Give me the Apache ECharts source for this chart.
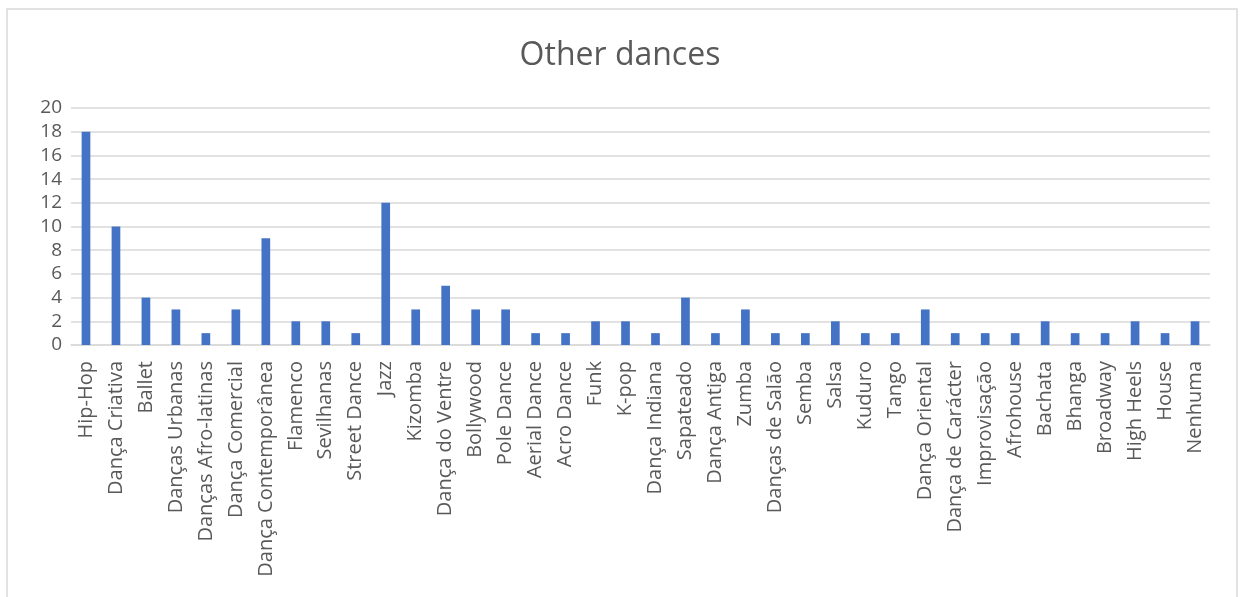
<!DOCTYPE html>
<html>
<head>
<meta charset="utf-8">
<script src="https://cdn.jsdelivr.net/npm/echarts@6/dist/echarts.min.js"></script>
<style>
  html, body { margin: 0; padding: 0; background: #fff; }
  #chart { width: 1240px; height: 597px; }
</style>
</head>
<body>
<div id="chart"></div>
<script>
// Dance styles and how many respondents mentioned each
const dances = [
  'Hip-Hop', 'Dança Criativa', 'Ballet', 'Danças Urbanas', 'Danças Afro-latinas',
  'Dança Comercial', 'Dança Contemporânea', 'Flamenco', 'Sevilhanas', 'Street Dance',
  'Jazz', 'Kizomba', 'Dança do Ventre', 'Bollywood', 'Pole Dance', 'Aerial Dance',
  'Acro Dance', 'Funk', 'K-pop', 'Dança Indiana', 'Sapateado', 'Dança Antiga',
  'Zumba', 'Danças de Salão', 'Semba', 'Salsa', 'Kuduro', 'Tango', 'Dança Oriental',
  'Dança de Carácter', 'Improvisação', 'Afrohouse', 'Bachata', 'Bhanga', 'Broadway',
  'High Heels', 'House', 'Nenhuma'
];
const counts = [
  18, 10, 4, 3, 1,
  3, 9, 2, 2, 1,
  12, 3, 5, 3, 3, 1,
  1, 2, 2, 1, 4, 1,
  3, 1, 1, 2, 1, 1, 3,
  1, 1, 1, 2, 1, 1,
  2, 1, 2
];
const yTicks = { min: 0, max: 20, step: 2 };

const textColor = '#595959';
const gridColor = '#d9d9d9';
const font = '"Open Sans", "Noto Sans", sans-serif';

const chart = echarts.init(document.getElementById('chart'), null, { renderer: 'canvas' });
chart.setOption({
  animation: false,
  backgroundColor: '#ffffff',
  graphic: [{
    type: 'rect',
    shape: { x: 7, y: 9, width: 1230, height: 600 },
    style: { fill: 'none', stroke: gridColor, lineWidth: 1.5 },
    silent: true
  }],
  title: {
    text: 'Other dances',
    left: 'center',
    top: 35,
    textStyle: { fontFamily: font, fontSize: 32, fontWeight: 'normal', color: textColor }
  },
  grid: {
    left: 71, right: 30, top: 108, bottom: 252,
    containLabel: false,
    outerBoundsMode: 'none'
  },
  xAxis: {
    type: 'category',
    data: dances,
    axisLine: { show: true, lineStyle: { color: gridColor, width: 1.5 } },
    axisTick: { show: false },
    axisLabel: {
      interval: 0,
      rotate: 90,
      margin: 16,
      fontFamily: font,
      fontSize: 20,
      color: textColor
    }
  },
  yAxis: {
    type: 'value',
    min: yTicks.min,
    max: yTicks.max,
    interval: yTicks.step,
    axisLine: { show: false },
    axisTick: { show: false },
    splitLine: { lineStyle: { color: gridColor, width: 1.5 } },
    axisLabel: {
      margin: 9,
      fontFamily: font,
      fontSize: 19,
      color: textColor
    }
  },
  series: [{
    type: 'bar',
    data: counts,
    barWidth: '29%',
    itemStyle: { color: '#4472C4' }
  }]
});
</script>
</body>
</html>
